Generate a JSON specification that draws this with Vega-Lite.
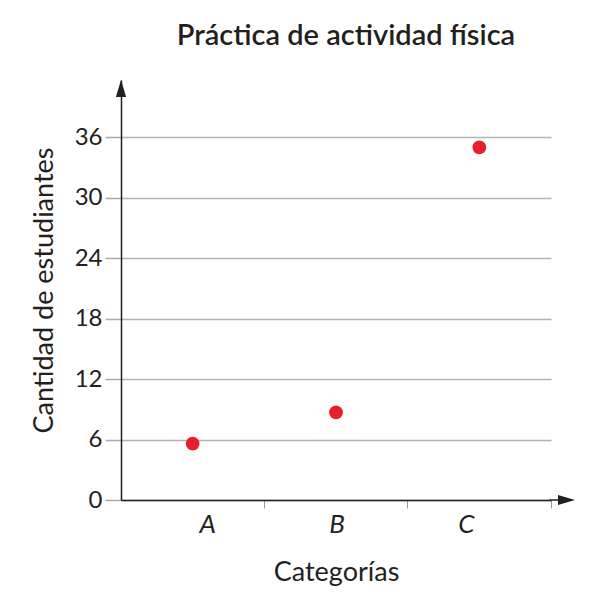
{
  "$schema": "https://vega.github.io/schema/vega-lite/v6.json",
  "autosize": "none",
  "width": 430,
  "height": 420,
  "padding": {"left": 121, "top": 80, "right": 49, "bottom": 100},
  "background": "white",
  "title": {"text": "Práctica de actividad física", "font": "Lato", "fontSize": 29, "fontWeight": 600, "color": "#231f20", "anchor": "middle", "dx": 10, "offset": 6, "baseline": "alphabetic"},
  "config": {"view": {"stroke": null}, "font": "Lato"},
  "data": {"values": [
    {"categoria": "A", "estudiantes": 5.6},
    {"categoria": "B", "estudiantes": 8.7},
    {"categoria": "C", "estudiantes": 35}
  ]},
  "layer": [
    {
      "mark": {"type": "point", "filled": true, "opacity": 1, "color": "#e8202a", "size": 190},
      "encoding": {
        "x": {"field": "categoria", "type": "nominal",
          "scale": {"type": "band", "paddingInner": 0, "paddingOuter": 0},
          "axis": {"title": "Categorías", "titleFont": "Lato", "titleFontSize": 27, "titleFontWeight": "normal", "titleColor": "#231f20", "titlePadding": 22,
            "labelFont": "Lato", "labelFontSize": 26, "labelFontStyle": "italic", "labelColor": "#231f20", "labelAngle": 0, "labelPadding": 3,
            "labelOffset": {"condition": [{"test": "datum.value === 'A'", "value": 15}, {"test": "datum.value === 'C'", "value": -13}], "value": 1},
            "bandPosition": 1, "tickSize": 8, "tickColor": "#999999", "tickWidth": 1, "domainColor": "#231f20", "domainWidth": 1.5, "grid": false, "zindex": 1}},
        "y": {"field": "estudiantes", "type": "quantitative",
          "scale": {"domain": [0, 41.7], "nice": false, "zero": true},
          "axis": {"title": "Cantidad de estudiantes", "titleFont": "Lato", "titleFontSize": 27, "titleFontWeight": "normal", "titleColor": "#231f20", "titlePadding": 16,
            "values": [0, 3, 6, 9, 12, 15, 18, 21, 24, 27, 30, 33, 36],
            "labelExpr": "datum.value % 6 === 0 ? datum.label : ''",
            "labelFont": "Lato", "labelFontSize": 24, "labelColor": "#231f20", "labelPadding": 3,
            "tickSize": 16, "tickColor": "#aaaaaa", "tickWidth": 1.5,
            "grid": true, "gridColor": "#b3b3b3", "gridWidth": 1.5,
            "domainColor": "#231f20", "domainWidth": 1.5}}
      }
    },
    {
      "data": {"values": [{}]},
      "mark": {"type": "point", "filled": true, "opacity": 1, "color": "#231f20", "size": 289, "shape": "M-0.6,1 L0,-1 L0.6,1 Z", "yOffset": 8.5},
      "encoding": {"x": {"datum": "A", "bandPosition": 0}, "y": {"datum": 41.7}}
    },
    {
      "data": {"values": [{}]},
      "mark": {"type": "point", "filled": true, "opacity": 1, "color": "#231f20", "size": 289, "shape": "M-2,-0.09 L-1,-0.09 L-1,-0.6 L1,0 L-1,0.6 L-1,0.09 L-2,0.09 Z", "xOffset": 15.5},
      "encoding": {"x": {"datum": "C", "bandPosition": 1}, "y": {"datum": 0}}
    }
  ]
}
